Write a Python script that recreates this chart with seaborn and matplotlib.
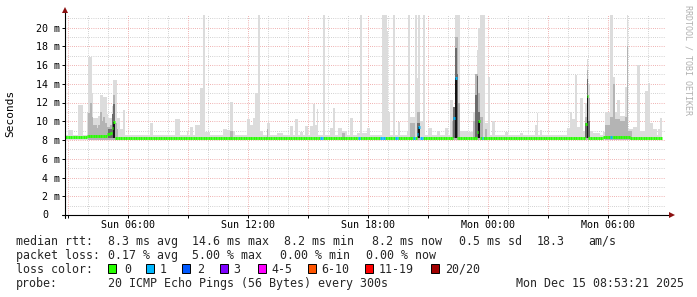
import numpy as np
import pandas as pd
import matplotlib
matplotlib.use("Agg")
import matplotlib.pyplot as plt
from matplotlib.patches import Rectangle
import seaborn as sns

# ---------------- data (time = minutes since Sun 00:00, values in ms) ----------------
t_start, t_end = 170, 1970          # Sun 02:50 .. Mon 08:50
data_last = 1955                    # last 5-minute step with data

# light smoke (max of the 20 pings): (first step, last step, top)
light_spans = [
    (180, 190, 9.1), (210, 220, 11.7), (235, 235, 10.9), (240, 245, 16.9), (250, 250, 13.0),
    (255, 265, 10.4), (270, 270, 10.6), (275, 280, 12.8), (285, 290, 12.6), (295, 295, 10.8),
    (300, 305, 10.4), (310, 310, 11.6), (315, 320, 14.4), (325, 330, 10.4), (335, 340, 9.2),
    (345, 345, 11.2), (425, 430, 9.8),
    (500, 510, 10.2), (535, 535, 9.0), (545, 550, 9.4), (560, 570, 9.6), (575, 580, 13.5),
    (585, 585, 21.4), (590, 600, 8.9), (645, 650, 9.2), (655, 660, 9.1), (665, 670, 12.1),
    (675, 675, 9.0), (715, 720, 10.2), (725, 730, 9.6), (735, 735, 10.3), (740, 745, 13.0),
    (750, 750, 21.4), (755, 760, 9.0),
    (775, 780, 9.8), (805, 820, 8.8), (845, 850, 9.5), (860, 865, 10.2), (875, 880, 8.9),
    (890, 895, 9.5), (905, 910, 9.5), (915, 915, 11.8), (920, 920, 9.6), (925, 925, 11.3),
    (945, 945, 21.4), (965, 970, 9.3), (975, 975, 11.4), (990, 995, 9.3), (1000, 1010, 9.0),
    (1025, 1030, 10.4), (1045, 1050, 8.8), (1055, 1055, 21.4), (1060, 1070, 8.8),
    (1075, 1080, 9.3), (1120, 1130, 21.4), (1135, 1135, 19.6), (1140, 1140, 11.0),
    (1155, 1155, 21.4), (1170, 1170, 9.9), (1195, 1195, 9.0), (1200, 1200, 21.4),
    (1205, 1215, 10.5), (1220, 1220, 21.4), (1225, 1225, 14.6), (1230, 1230, 21.4),
    (1235, 1240, 10.0), (1245, 1245, 21.4), (1260, 1265, 9.3), (1285, 1290, 9.0),
    (1310, 1315, 9.3), (1325, 1330, 12.3), (1335, 1335, 10.4), (1340, 1350, 21.4),
    (1355, 1370, 9.0),
    (1375, 1390, 8.9), (1395, 1395, 11.0), (1400, 1400, 15.0), (1405, 1405, 17.6),
    (1410, 1410, 19.9), (1415, 1425, 21.4), (1430, 1435, 9.8), (1440, 1440, 14.7),
    (1450, 1455, 10.0), (1490, 1495, 8.9), (1535, 1540, 8.8), (1580, 1580, 9.6),
    (1585, 1585, 10.9), (1595, 1595, 9.1),
    (1675, 1680, 9.3), (1685, 1685, 11.0), (1690, 1695, 10.2), (1700, 1700, 14.9),
    (1705, 1710, 9.4), (1715, 1720, 12.5), (1725, 1725, 9.0), (1730, 1730, 12.0),
    (1735, 1735, 16.6), (1740, 1740, 14.0), (1745, 1750, 9.0), (1755, 1770, 8.8),
    (1785, 1785, 8.9), (1790, 1800, 11.0), (1805, 1810, 21.4), (1815, 1815, 14.7),
    (1820, 1820, 11.0), (1825, 1830, 12.3), (1835, 1845, 10.6), (1850, 1850, 13.7),
    (1855, 1855, 21.4), (1860, 1870, 9.2), (1875, 1880, 9.4), (1885, 1890, 16.0),
    (1895, 1905, 9.0), (1910, 1915, 13.2), (1920, 1920, 14.1), (1925, 1930, 9.8),
    (1935, 1940, 9.2), (1950, 1950, 9.2), (1955, 1955, 10.4),
]
# medium smoke
mid_spans = [
    (240, 240, 10.9), (245, 245, 12.0), (250, 250, 10.5), (255, 260, 9.6), (265, 265, 9.3),
    (270, 270, 9.6), (275, 275, 11.0), (280, 280, 10.0), (285, 285, 10.5), (290, 290, 9.8),
    (295, 300, 9.4), (305, 305, 9.6), (310, 310, 10.6), (315, 315, 12.8), (320, 320, 9.8),
    (325, 325, 9.2), (665, 670, 9.0), (775, 775, 9.2), (1000, 1005, 8.8),
    (1205, 1215, 9.8), (1225, 1230, 11.0), (1330, 1335, 10.0), (1340, 1345, 19.0),
    (1350, 1350, 12.0), (1395, 1395, 10.0), (1400, 1405, 15.0), (1410, 1410, 13.0),
    (1415, 1420, 10.5), (1430, 1430, 9.2), (1730, 1730, 10.5), (1735, 1735, 15.5),
    (1740, 1740, 12.5), (1790, 1800, 9.6), (1805, 1810, 10.5), (1815, 1815, 14.0),
    (1820, 1830, 10.2), (1835, 1845, 10.0), (1850, 1850, 10.5), (1855, 1855, 18.0),
    (1860, 1865, 9.0),
]
# dark smoke (pings close to the median)
dark_spans = [
    (300, 305, 9.2), (310, 310, 10.8), (315, 315, 11.8), (1225, 1230, 9.8),
    (1335, 1335, 11.5), (1340, 1340, 17.8), (1345, 1345, 15.0), (1400, 1400, 12.8),
    (1405, 1405, 14.8), (1410, 1410, 11.0), (1730, 1730, 9.8), (1735, 1735, 14.5),
    (1740, 1740, 10.0),
]
# black core
core_spans = [(315, 315, 9.9), (1230, 1230, 9.4), (1340, 1340, 14.6), (1410, 1410, 10.0),
              (1735, 1735, 12.7)]
smoke_band = (7.95, 8.5)

# median rtt
median_levels = [(170, 230, 8.3), (235, 290, 8.45), (295, 300, 8.6), (305, 305, 8.7),
                 (310, 310, 9.3), (315, 315, 9.9), (320, 1780, 8.2), (1785, 1860, 8.35),
                 (1865, 1955, 8.2)]
median_spikes = [(1225, 8.6), (1230, 9.4), (1335, 10.4), (1340, 14.6), (1405, 8.9),
                 (1410, 10.0), (1730, 9.7), (1735, 12.7)]
loss1_steps = [935, 940, 1050, 1115, 1120, 1125, 1160, 1165, 1215, 1225, 1230, 1235, 1240,
               1335, 1340, 1420, 1805]

x_ticks = [360, 720, 1080, 1440, 1800]
x_labels = ["Sun 06:00", "Sun 12:00", "Sun 18:00", "Mon 00:00", "Mon 06:00"]
y_ticks = [2, 4, 6, 8, 10, 12, 14, 16, 18, 20]

loss_labels = ["0", "1", "2", "3", "4-5", "6-10", "11-19", "20/20"]
loss_colors = ["#26ff00", "#00b8ff", "#0059ff", "#7e00ff", "#ff00ff", "#ff5500", "#ff0000", "#a10000"]

stats_rtt = ["8.3 ms avg", "14.6 ms max", "8.2 ms min", "8.2 ms now", "0.5 ms sd", "18.3", "am/s"]
stats_loss = ["0.17 % avg", "5.00 % max", "0.00 % min", "0.00 % now"]
probe_text = "20 ICMP Echo Pings (56 Bytes) every 300s"
date_text = "Mon Dec 15 08:53:21 2025"

# ---------------- figure ----------------
W, H = 697, 297
sns.set_theme(style="white")
plt.rcParams["font.family"] = ["DejaVu Sans Mono"]

fig = plt.figure(figsize=(W / 100, H / 100), dpi=100)
fig.patch.set_facecolor("white")
ax = fig.add_axes([65 / W, 1 - 215 / H, 600 / W, 200 / H])
ax.set_facecolor("white")
ymax = 200 / 9.375
ax.set_xlim(t_start, t_end)
ax.set_ylim(0, ymax)
for s in ax.spines.values():
    s.set_visible(False)

dash = (0, (0.72, 1.44))
# grid
minor_x = [t for t in range(180, t_end, 60) if t % 180 != 0]
major_x = list(range(180, t_end, 180))
ax.vlines(minor_x, 0, ymax, colors="#c4c4c4", linewidth=0.72, linestyles=[dash], zorder=0.5)
ax.vlines(major_x, 0, ymax, colors="#eb9a9a", linewidth=0.72, linestyles=[dash], zorder=0.6)
ax.hlines([v for v in range(1, 22, 2)], t_start, t_end, colors="#c4c4c4", linewidth=0.72,
          linestyles=[dash], zorder=0.5)
ax.hlines(y_ticks, t_start, t_end, colors="#eb9a9a", linewidth=0.72, linestyles=[dash], zorder=0.6)


def expand(spans):
    t, v = [], []
    for a, b, val in spans:
        for s in range(a, b + 1, 5):
            t.append(s)
            v.append(val)
    return np.array(t, float), np.array(v, float)


ax.fill_between([t_start, data_last + 5], smoke_band[0], smoke_band[1], color="#dddddd",
                linewidth=0, zorder=1)
for spans, base, col, z in [(light_spans, smoke_band[0], "#dcdcdc", 1.1),
                            (mid_spans, smoke_band[0], "#b4b4b4", 2),
                            (dark_spans, 8.2, "#6c6c6c", 3),
                            (core_spans, 8.2, "#141414", 4)]:
    tt, vv = expand(spans)
    ax.bar(tt, vv - base, bottom=base, width=5, align="edge", color=col, linewidth=0,
           antialiased=False, zorder=z)

# median line, one short segment per 5-minute step, coloured by loss
mt, mv = expand(median_levels)
med = dict(zip(mt, mv))
for t, v in median_spikes:
    med[t] = v
rows = []
for i, t in enumerate(sorted(med)):
    lab = "1" if t in loss1_steps else "0"
    rows.append(dict(seg=i, t=t, v=med[t], loss=lab))
    rows.append(dict(seg=i, t=t + 5, v=med[t], loss=lab))
df = pd.DataFrame(rows)
sns.lineplot(data=df, x="t", y="v", units="seg", estimator=None, hue="loss",
             palette={"0": loss_colors[0], "1": loss_colors[1]}, linewidth=2.1,
             legend=False, ax=ax, zorder=6, solid_capstyle="butt")
ax.set_xlabel("")
ax.set_ylabel("")

# axes with arrows
ax.plot([t_start - 9, t_start + 3 * 605], [0, 0], color="#000000", lw=0.8, clip_on=False, zorder=7)
ax.plot([t_start, t_start], [-0.3, ymax + 0.6], color="#000000", lw=0.8, clip_on=False, zorder=7)
ax.plot([t_start + 3 * 607], [0], marker=">", ms=4.5, color="#8b1010", clip_on=False, zorder=8,
        markeredgewidth=0)
ax.plot([t_start], [ymax + 0.55], marker="^", ms=4.5, color="#8b1010", clip_on=False, zorder=8,
        markeredgewidth=0)

# ticks
ax.set_xticks(x_ticks, x_labels)
ax.set_xticks(major_x, minor=True)
ax.tick_params(axis="x", which="both", bottom=True, length=2.2, width=0.7, color="#000000",
               pad=1.5, labelsize=7.2, labelcolor="#000000", direction="out")
ax.set_yticks(y_ticks, [f"{v} m" for v in y_ticks])
ax.tick_params(axis="y", which="both", left=True, length=2.2, width=0.7, color="#000000",
               pad=1.2, labelsize=7.2, labelcolor="#000000", direction="out")
ax.text(-16.3 / 600, 0, "0", transform=ax.get_yaxis_transform(), ha="right", va="center",
        fontsize=7.2, color="#000000")
ax.grid(False)

# side texts
fig.text(10.5 / W, 1 - 113 / H, "Seconds", rotation=90, ha="center", va="center", fontsize=8,
         color="#000000")
fig.text(688 / W, 1 - 60 / H, "RRDTOOL / TOBI OETIKER", rotation=270, ha="center", va="center",
         fontsize=6, color="#b0b0b0")

# legend block
fs = 8.4


def px(x, y):
    return x / W, 1 - y / H


fig.text(*px(16, 245), "median rtt:", fontsize=fs, va="baseline")
for s, x in zip(stats_rtt, [108, 192, 284, 372, 459, 537, 588]):
    fig.text(*px(x, 245), s, fontsize=fs, va="baseline")
fig.text(*px(16, 259), "packet loss:", fontsize=fs, va="baseline")
for s, x in zip(stats_loss, [108, 192, 280, 366]):
    fig.text(*px(x, 259), s, fontsize=fs, va="baseline")
fig.text(*px(16, 273), "loss color:", fontsize=fs, va="baseline")
for lab, col, xs, xl in zip(loss_labels, loss_colors,
                            [108, 146, 182, 220, 258, 308, 365, 431],
                            [124, 160, 197, 233, 271, 321, 379, 445]):
    fig.patches.append(Rectangle(px(xs, 273), 8 / W, 9 / H, transform=fig.transFigure,
                                 facecolor=col, edgecolor="#000000", linewidth=0.7))
    fig.text(*px(xl, 273), lab, fontsize=fs, va="baseline")
fig.text(*px(16, 287), "probe:", fontsize=fs, va="baseline")
fig.text(*px(108, 287), probe_text, fontsize=fs, va="baseline")
fig.text(*px(684, 287), date_text, fontsize=fs, va="baseline", ha="right")

fig.savefig("out.png", dpi=100, facecolor="white")
